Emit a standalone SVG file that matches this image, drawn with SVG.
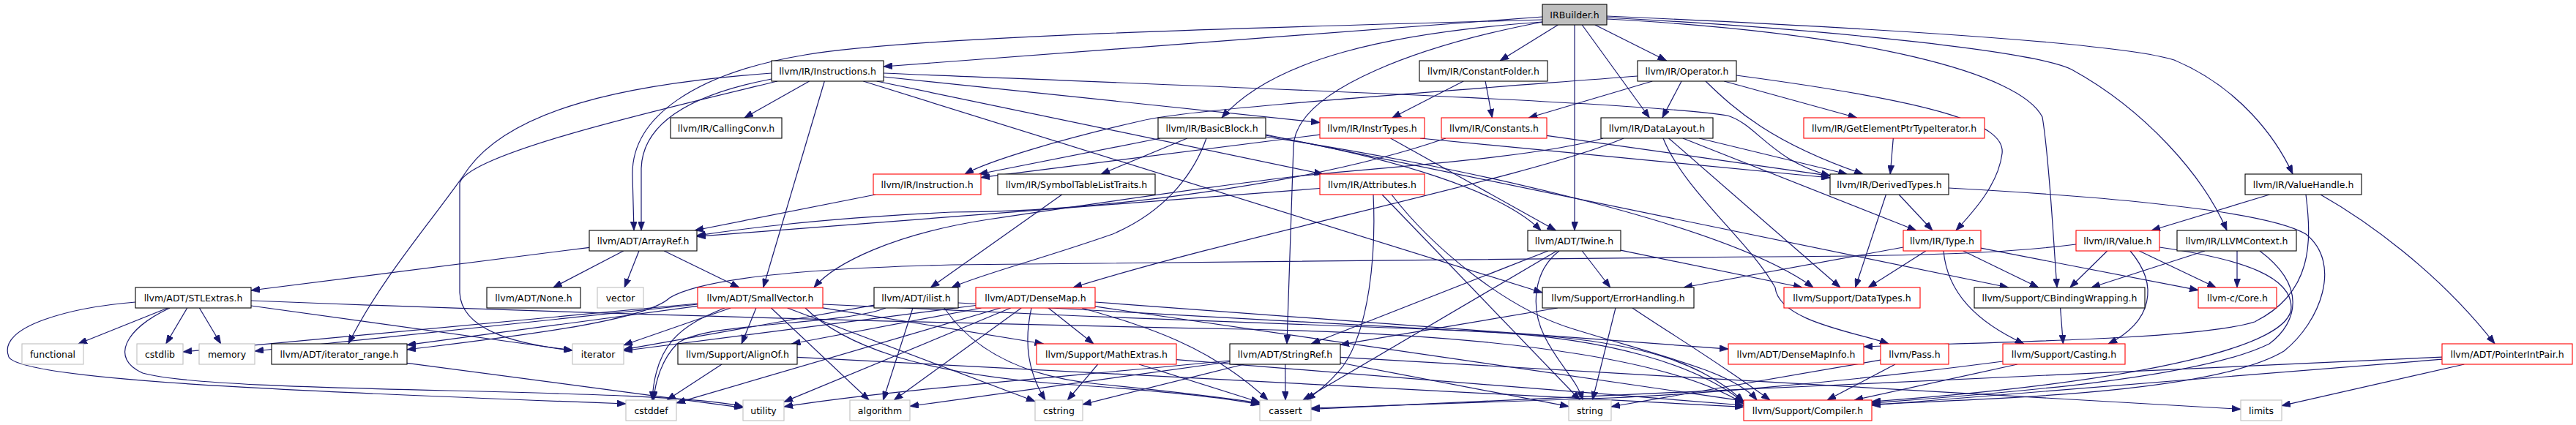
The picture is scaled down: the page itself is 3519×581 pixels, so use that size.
<svg xmlns="http://www.w3.org/2000/svg" width="3519" height="581" viewBox="0 0 3519 581">
<style>
.e{fill:none;stroke:#191970;stroke-width:1.2;marker-end:url(#ah)}
.n rect{fill:#ffffff;stroke-width:1.1}
.k rect{stroke:#000000}
.r rect{stroke:#ff0000}
.g rect{stroke:#bfbfbf}
.n text{font-family:"DejaVu Sans","Liberation Sans",sans-serif;font-size:12.5px;text-anchor:middle;fill:#000000}
</style>
<defs>
<marker id="ah" viewBox="0 0 12 9" refX="12" refY="4.5" markerWidth="12" markerHeight="9" markerUnits="userSpaceOnUse" orient="auto"><path d="M0,0 L12,4.5 L0,9 z" fill="#191970" stroke="#191970" stroke-width="0.8"/></marker>
</defs>
<rect width="3519" height="581" fill="#ffffff"/>
<g id="connectors">
<path class="e" d="M2107,23 L1207,91"/>
<path class="e" d="M2107,30 C1900,45 1740,80 1669,161"/>
<path class="e" d="M2128.4,34 L2049.1,83"/>
<path class="e" d="M2178.9,34 L2276.6,83"/>
<path class="e" d="M2161.2,34 L2253.3,161"/>
<path class="e" d="M2151,34 L2151,315"/>
<path class="e" d="M2107,27 C1700,38 1250,50 1100,75 C950,100 862,160 864,240 L866,315"/>
<path class="e" d="M2107,30 C1950,60 1770,120 1767,200 L1758,470"/>
<path class="e" d="M2195,22 C2600,40 2900,60 2970,82 C3060,120 3110,190 3132,238"/>
<path class="e" d="M2195,24 C2500,40 2780,70 2830,95 C2930,150 3010,240 3042,315"/>
<path class="e" d="M2195,26 C2550,45 2760,100 2790,160 C2800,220 2805,330 2810,393"/>
<path class="e" d="M1105.6,111 L1016.9,161"/>
<path class="e" d="M1054,108 C940,130 878,170 876,230 L876,315"/>
<path class="e" d="M1054,100 C850,115 700,150 640,230 C600,290 520,380 476,470"/>
<path class="e" d="M1062,111 C900,150 640,210 628,250 L628,400 C630,450 700,470 782,479"/>
<path class="e" d="M1126.3,111 L1042.7,393"/>
<path class="e" d="M1207,105 L1803,167.5"/>
<path class="e" d="M1207,100 C1700,120 2250,140 2360,158 C2400,170 2420,220 2500,240"/>
<path class="e" d="M1197.7,111 L1807.3,238"/>
<path class="e" d="M1179.3,111 L2107,400"/>
<path class="e" d="M1999.2,111 L1901.8,161"/>
<path class="e" d="M2029.1,111 L2038.4,161"/>
<path class="e" d="M2257.2,111 L2088.3,161"/>
<path class="e" d="M2297.1,111 L2270.9,161"/>
<path class="e" d="M2330,111 C2370,150 2420,195 2545,238"/>
<path class="e" d="M2237,104 C1900,130 1620,150 1560,165 C1450,190 1350,220 1318,238"/>
<path class="e" d="M2372,103 C2650,140 2740,170 2735,210 C2730,250 2700,285 2672,315"/>
<path class="e" d="M2355.3,111 L2536.7,161"/>
<path class="e" d="M1584.8,189 L1337.2,238"/>
<path class="e" d="M1621.9,189 L1504.1,238"/>
<path class="e" d="M1648,189 C1630,240 1590,290 1520,320 C1420,355 1340,375 1300,393"/>
<path class="e" d="M1729,185 C1900,215 2050,260 2105,315"/>
<path class="e" d="M1729,184 L2743.6,393"/>
<path class="e" d="M1729,187 C1950,220 2350,300 2477,393"/>
<path class="e" d="M1803,184.1 L1340,242.7"/>
<path class="e" d="M1899.6,189 L2125.4,315"/>
<path class="e" d="M1940,189 L2500,243"/>
<path class="e" d="M1975,189 C1800,250 1500,290 1300,290 C1100,300 1000,315 952,322"/>
<path class="e" d="M2113,185.3 L2500,240.4"/>
<path class="e" d="M2190,189 C2100,215 1900,228 1780,240 C1650,255 1450,285 1350,300 C1220,320 1140,360 1112,393"/>
<path class="e" d="M2218,189 C2100,240 1700,320 1466,393"/>
<path class="e" d="M2321.2,189 L2523.3,238"/>
<path class="e" d="M2298.9,189 L2617.6,315"/>
<path class="e" d="M2272,189 C2300,260 2390,330 2425,393 C2430,440 2540,455 2580,470"/>
<path class="e" d="M2279.6,189 L2513.9,393"/>
<path class="e" d="M2586.3,189 L2582.2,238"/>
<path class="e" d="M1196,266 L949,315"/>
<path class="e" d="M1450.7,266 L1271.3,393"/>
<path class="e" d="M1803,257.5 L952,323.3"/>
<path class="e" d="M1876,266 C1880,350 1870,450 1835,500 C1815,525 1800,535 1785,547"/>
<path class="e" d="M1888,266 L2158.5,547"/>
<path class="e" d="M1901,266 C1950,330 2050,420 2150,450 C2280,490 2370,510 2400,547"/>
<path class="e" d="M2594.1,266 L2639.9,315"/>
<path class="e" d="M2576.4,266 L2534.6,393"/>
<path class="e" d="M2662,257 C2900,270 3100,290 3150,320 C3200,360 3170,440 3120,480 C3020,540 2700,545 2557,553"/>
<path class="e" d="M3100.4,266 L2939.1,315"/>
<path class="e" d="M3170,266 C3230,300 3330,370 3408,470"/>
<path class="e" d="M3150,266 C3158,330 3160,400 3080,440 C3000,465 2700,468 2546,474"/>
<path class="e" d="M805,338.3 L343,397"/>
<path class="e" d="M851.7,343 L755.8,393"/>
<path class="e" d="M872.9,343 L853.1,393"/>
<path class="e" d="M907.2,343 L1009.8,393"/>
<path class="e" d="M2114.8,343 L1791.2,470"/>
<path class="e" d="M2214,342.1 L2461.9,393"/>
<path class="e" d="M2161.3,343 L2199.7,393"/>
<path class="e" d="M2126.7,343 L1779.8,547"/>
<path class="e" d="M2130,343 C2095,370 2090,420 2110,460 C2130,500 2155,520 2162,547"/>
<path class="e" d="M2630.9,343 L2552.1,393"/>
<path class="e" d="M2681.8,343 L2784.7,393"/>
<path class="e" d="M2655,343 C2660,400 2700,440 2765,470"/>
<path class="e" d="M2706,339.2 L3003,396.7"/>
<path class="e" d="M2600,338 L2300,393"/>
<path class="e" d="M2878.7,343 L2827.8,393"/>
<path class="e" d="M2910,343 C2950,390 2940,440 2880,470"/>
<path class="e" d="M2922.3,343 L3027.2,393"/>
<path class="e" d="M2950,338 C3070,355 3130,380 3130,420 C3130,470 2950,520 2557,549"/>
<path class="e" d="M2836,334 C2750,345 2650,350 2400,351 L1300,362 C1100,367 960,380 915,407 C880,440 700,460 556,478"/>
<path class="e" d="M3056,343 L3056,393"/>
<path class="e" d="M3012.1,343 L2856.9,393"/>
<path class="e" d="M3087,343 C3150,390 3140,440 3100,470 C3000,520 2700,540 2557,551"/>
<path class="e" d="M229.1,421 L106.9,470"/>
<path class="e" d="M255.7,421 L226.8,470"/>
<path class="e" d="M272.4,421 L301.6,470"/>
<path class="e" d="M185,413 C100,420 -5,445 12,488 C30,520 400,535 855,552"/>
<path class="e" d="M232,421 C170,450 150,490 195,510 C300,540 900,528 1015,556"/>
<path class="e" d="M343,418 L782,479"/>
<path class="e" d="M343,411 C700,425 1200,440 1700,450 C2100,458 2300,500 2382,552"/>
<path class="e" d="M1032.9,421 L1013.1,470"/>
<path class="e" d="M990,421 C930,445 895,470 891,547"/>
<path class="e" d="M998.2,421 L852,471.8"/>
<path class="e" d="M953,415 L250,481"/>
<path class="e" d="M953,416 L348,480"/>
<path class="e" d="M953,418.4 L556,471.6"/>
<path class="e" d="M1124,420.9 L1425.5,470"/>
<path class="e" d="M1124,416 C1400,430 1800,445 2000,452 C2200,460 2320,500 2382,550"/>
<path class="e" d="M1053.4,421 L1187.1,547"/>
<path class="e" d="M1100,421 C1150,470 1250,510 1450,525 C1600,535 1680,545 1721,553"/>
<path class="e" d="M1075.6,421 L1414,548.7"/>
<path class="e" d="M1247,421 L1206.5,547"/>
<path class="e" d="M1290,421 C1330,480 1400,515 1500,525 C1600,535 1680,545 1721,551"/>
<path class="e" d="M1194,417.2 L852,477.8"/>
<path class="e" d="M1210,421 C1150,445 960,440 925,470 C905,490 895,520 893,547"/>
<path class="e" d="M1309,414 C1600,430 1900,448 2050,455 C2250,465 2330,500 2382,549"/>
<path class="e" d="M1496,413 L2361,477.1"/>
<path class="e" d="M1340.5,421 L1081.5,470"/>
<path class="e" d="M1496,418.9 L2382,548.2"/>
<path class="e" d="M1432.1,421 L1493.9,470"/>
<path class="e" d="M1395.2,421 L1221.3,547"/>
<path class="e" d="M1478,421 C1560,445 1650,470 1732,547"/>
<path class="e" d="M1366.8,421 L924,550.9"/>
<path class="e" d="M1409,421 C1398,470 1405,510 1428,547"/>
<path class="e" d="M1333,417.5 L852,479.5"/>
<path class="e" d="M1380.7,421 L1071,549.4"/>
<path class="e" d="M2127.8,421 L1831,471.2"/>
<path class="e" d="M2207,421 L2175.5,547"/>
<path class="e" d="M2230,421 C2280,455 2340,490 2418,547"/>
<path class="e" d="M2814.6,421 L2818.4,470"/>
<path class="e" d="M986,498 L911,547"/>
<path class="e" d="M1089,488.3 L2382,556.4"/>
<path class="e" d="M1499.7,498 L1458.3,547"/>
<path class="e" d="M1556,498 L1721,550"/>
<path class="e" d="M1607,491.7 L2382,554"/>
<path class="e" d="M1680,494.5 L1243,555.3"/>
<path class="e" d="M1699.3,498 L1479,552.9"/>
<path class="e" d="M1755.7,498 L1756,547"/>
<path class="e" d="M1831,496 L2143,555.6"/>
<path class="e" d="M1680,493 C1400,520 1200,535 1071,556"/>
<path class="e" d="M1831,488.4 L3061,559.4"/>
<path class="e" d="M556,496.3 L1015,557.3"/>
<path class="e" d="M2589,498 L2496,547"/>
<path class="e" d="M2569,492.1 L2201,556"/>
<path class="e" d="M2755.9,498 L2533.1,547"/>
<path class="e" d="M2736,494 C2500,525 2300,540 2200,544 C2000,552 1850,556 1791,558"/>
<path class="e" d="M3366.3,498 L3117,554.6"/>
<path class="e" d="M3336,488.1 L1791,559.4"/>
<path class="e" d="M3336,491.2 L2557,554"/>
</g>
<g id="IRBuilder" class="n k"><rect x="2107" y="6" width="88" height="28" style="fill:#bfbfbf"/><text x="2151" y="24.5">IRBuilder.h</text></g>
<g id="Instructions" class="n k"><rect x="1054" y="83" width="153" height="28"/><text x="1130.5" y="101.5">llvm/IR/Instructions.h</text></g>
<g id="ConstantFolder" class="n k"><rect x="1939" y="83" width="175" height="28"/><text x="2026.5" y="101.5">llvm/IR/ConstantFolder.h</text></g>
<g id="Operator" class="n k"><rect x="2237" y="83" width="135" height="28"/><text x="2304.5" y="101.5">llvm/IR/Operator.h</text></g>
<g id="CallingConv" class="n k"><rect x="916" y="161" width="152" height="28"/><text x="992" y="179.5">llvm/IR/CallingConv.h</text></g>
<g id="BasicBlock" class="n k"><rect x="1582" y="161" width="147" height="28"/><text x="1655.5" y="179.5">llvm/IR/BasicBlock.h</text></g>
<g id="InstrTypes" class="n r"><rect x="1803" y="161" width="143" height="28"/><text x="1874.5" y="179.5">llvm/IR/InstrTypes.h</text></g>
<g id="Constants" class="n r"><rect x="1969" y="161" width="144" height="28"/><text x="2041" y="179.5">llvm/IR/Constants.h</text></g>
<g id="DataLayout" class="n k"><rect x="2187" y="161" width="153" height="28"/><text x="2263.5" y="179.5">llvm/IR/DataLayout.h</text></g>
<g id="GetElementPtrTypeIterator" class="n r"><rect x="2464" y="161" width="247" height="28"/><text x="2587.5" y="179.5">llvm/IR/GetElementPtrTypeIterator.h</text></g>
<g id="Instruction" class="n r"><rect x="1193" y="238" width="147" height="28"/><text x="1266.5" y="256.5">llvm/IR/Instruction.h</text></g>
<g id="SymbolTableListTraits" class="n k"><rect x="1363" y="238" width="215" height="28"/><text x="1470.5" y="256.5">llvm/IR/SymbolTableListTraits.h</text></g>
<g id="Attributes" class="n r"><rect x="1803" y="238" width="143" height="28"/><text x="1874.5" y="256.5">llvm/IR/Attributes.h</text></g>
<g id="DerivedTypes" class="n k"><rect x="2500" y="238" width="162" height="28"/><text x="2581" y="256.5">llvm/IR/DerivedTypes.h</text></g>
<g id="ValueHandle" class="n k"><rect x="3067" y="238" width="159" height="28"/><text x="3146.5" y="256.5">llvm/IR/ValueHandle.h</text></g>
<g id="ArrayRef" class="n k"><rect x="805" y="315" width="147" height="28"/><text x="878.5" y="333.5">llvm/ADT/ArrayRef.h</text></g>
<g id="Twine" class="n k"><rect x="2087" y="315" width="127" height="28"/><text x="2150.5" y="333.5">llvm/ADT/Twine.h</text></g>
<g id="Type" class="n r"><rect x="2600" y="315" width="106" height="28"/><text x="2653" y="333.5">llvm/IR/Type.h</text></g>
<g id="Value" class="n r"><rect x="2836" y="315" width="114" height="28"/><text x="2893" y="333.5">llvm/IR/Value.h</text></g>
<g id="LLVMContext" class="n k"><rect x="2974" y="315" width="163" height="28"/><text x="3055.5" y="333.5">llvm/IR/LLVMContext.h</text></g>
<g id="STLExtras" class="n k"><rect x="185" y="393" width="158" height="28"/><text x="264" y="411.5">llvm/ADT/STLExtras.h</text></g>
<g id="None" class="n k"><rect x="665" y="393" width="128" height="28"/><text x="729" y="411.5">llvm/ADT/None.h</text></g>
<g id="vector" class="n g"><rect x="816" y="393" width="63" height="28"/><text x="847.5" y="411.5">vector</text></g>
<g id="SmallVector" class="n r"><rect x="953" y="393" width="171" height="28"/><text x="1038.5" y="411.5">llvm/ADT/SmallVector.h</text></g>
<g id="ilist" class="n k"><rect x="1194" y="393" width="115" height="28"/><text x="1251.5" y="411.5">llvm/ADT/ilist.h</text></g>
<g id="DenseMap" class="n r"><rect x="1333" y="393" width="163" height="28"/><text x="1414.5" y="411.5">llvm/ADT/DenseMap.h</text></g>
<g id="ErrorHandling" class="n k"><rect x="2107" y="393" width="207" height="28"/><text x="2210.5" y="411.5">llvm/Support/ErrorHandling.h</text></g>
<g id="DataTypes" class="n r"><rect x="2437" y="393" width="186" height="28"/><text x="2530" y="411.5">llvm/Support/DataTypes.h</text></g>
<g id="CBindingWrapping" class="n k"><rect x="2697" y="393" width="233" height="28"/><text x="2813.5" y="411.5">llvm/Support/CBindingWrapping.h</text></g>
<g id="Core" class="n r"><rect x="3003" y="393" width="107" height="28"/><text x="3056.5" y="411.5">llvm-c/Core.h</text></g>
<g id="functional" class="n g"><rect x="30" y="470" width="84" height="28"/><text x="72" y="488.5">functional</text></g>
<g id="cstdlib" class="n g"><rect x="187" y="470" width="63" height="28"/><text x="218.5" y="488.5">cstdlib</text></g>
<g id="memory" class="n g"><rect x="272" y="470" width="76" height="28"/><text x="310" y="488.5">memory</text></g>
<g id="iterator_range" class="n k"><rect x="371" y="470" width="185" height="28"/><text x="463.5" y="488.5">llvm/ADT/iterator_range.h</text></g>
<g id="iterator" class="n g"><rect x="782" y="470" width="70" height="28"/><text x="817" y="488.5">iterator</text></g>
<g id="AlignOf" class="n k"><rect x="926" y="470" width="163" height="28"/><text x="1007.5" y="488.5">llvm/Support/AlignOf.h</text></g>
<g id="MathExtras" class="n r"><rect x="1416" y="470" width="191" height="28"/><text x="1511.5" y="488.5">llvm/Support/MathExtras.h</text></g>
<g id="StringRef" class="n k"><rect x="1680" y="470" width="151" height="28"/><text x="1755.5" y="488.5">llvm/ADT/StringRef.h</text></g>
<g id="DenseMapInfo" class="n r"><rect x="2361" y="470" width="185" height="28"/><text x="2453.5" y="488.5">llvm/ADT/DenseMapInfo.h</text></g>
<g id="Pass" class="n r"><rect x="2569" y="470" width="93" height="28"/><text x="2615.5" y="488.5">llvm/Pass.h</text></g>
<g id="Casting" class="n r"><rect x="2736" y="470" width="167" height="28"/><text x="2819.5" y="488.5">llvm/Support/Casting.h</text></g>
<g id="PointerIntPair" class="n r"><rect x="3336" y="470" width="178" height="28"/><text x="3425" y="488.5">llvm/ADT/PointerIntPair.h</text></g>
<g id="cstddef" class="n g"><rect x="855" y="547" width="69" height="28"/><text x="889.5" y="565.5">cstddef</text></g>
<g id="utility" class="n g"><rect x="1015" y="547" width="56" height="28"/><text x="1043" y="565.5">utility</text></g>
<g id="algorithm" class="n g"><rect x="1161" y="547" width="82" height="28"/><text x="1202" y="565.5">algorithm</text></g>
<g id="cstring" class="n g"><rect x="1414" y="547" width="65" height="28"/><text x="1446.5" y="565.5">cstring</text></g>
<g id="cassert" class="n g"><rect x="1721" y="547" width="70" height="28"/><text x="1756" y="565.5">cassert</text></g>
<g id="string" class="n g"><rect x="2143" y="547" width="58" height="28"/><text x="2172" y="565.5">string</text></g>
<g id="Compiler" class="n r"><rect x="2382" y="547" width="175" height="28"/><text x="2469.5" y="565.5">llvm/Support/Compiler.h</text></g>
<g id="limits" class="n g"><rect x="3061" y="547" width="56" height="28"/><text x="3089" y="565.5">limits</text></g>
</svg>
